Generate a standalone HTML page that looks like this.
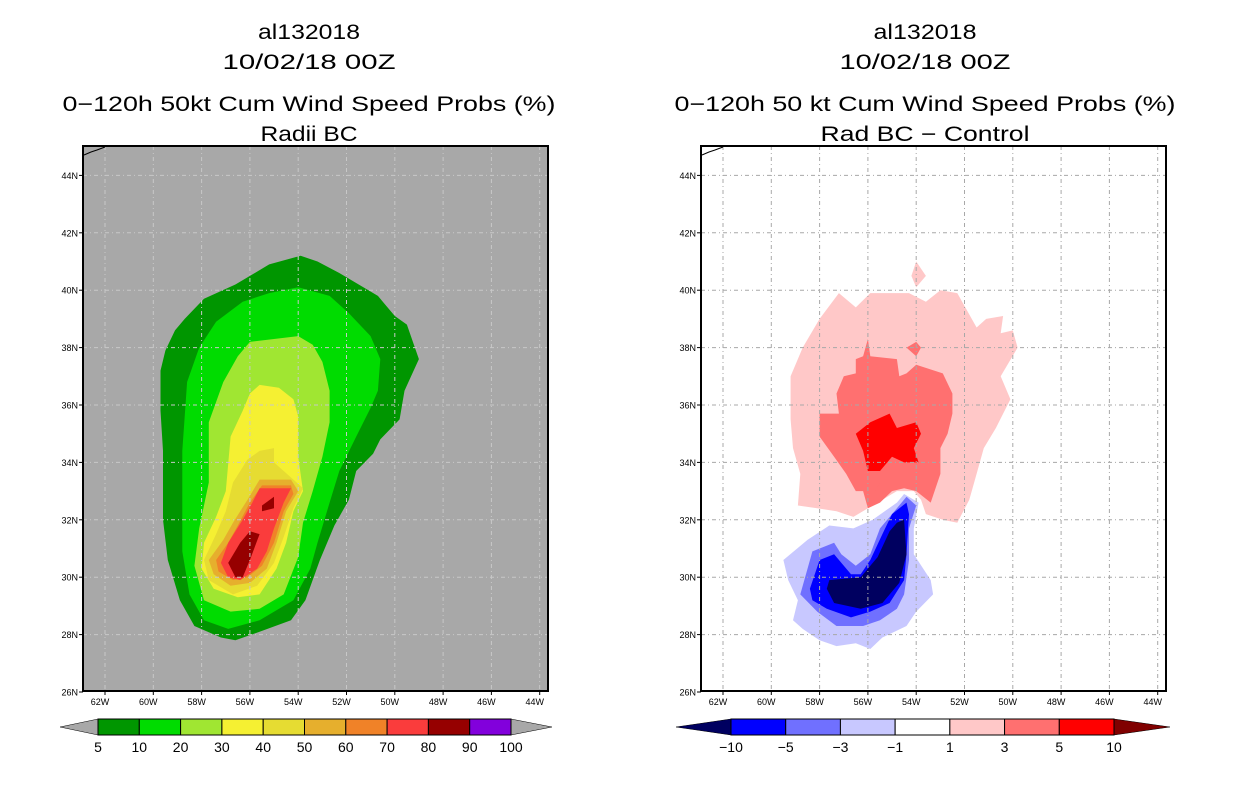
<!DOCTYPE html>
<html><head><meta charset="utf-8"><style>
body{margin:0;background:#fff;width:1236px;height:800px;overflow:hidden}
svg{display:block}
text{font-family:"Liberation Sans",sans-serif}
</style></head><body>
<svg id="c" width="1236" height="800" xmlns="http://www.w3.org/2000/svg"></svg>
<script>
// ---- data ----
const latTicks=[26,28,30,32,34,36,38,40,42,44];
const lonTicks=[62,60,58,56,54,52,50,48,46,44];
const leftLevels=["5","10","20","30","40","50","60","70","80","90","100"];
const leftColors=["#009600","#00dc00","#a0e632","#f5f032","#e6dc32","#e6af2d","#f08228","#fa3c3c","#960000","#8200dc"];
const rightLevels=["-10","-5","-3","-1","1","3","5","10"];
const rightColors=["#0000ff","#7070ff","#c8c8ff","#ffffff","#ffc8c8","#ff7070","#ff0000"];
// contour polygons [lonW, latN]
const c5=[[53.9,41.2],[53.2,41.0],[52.3,40.6],[50.7,39.8],[50.0,39.1],[49.5,38.8],[49.0,37.6],[49.6,36.5],[49.8,35.5],[50.6,34.8],[50.9,34.3],[51.6,33.7],[51.9,32.7],[52.5,31.8],[53.1,30.6],[53.7,29.2],[54.3,28.5],[55.6,28.1],[56.6,27.8],[57.2,27.9],[58.3,28.3],[58.9,29.2],[59.4,30.6],[59.6,32.0],[59.6,34.4],[59.7,35.8],[59.7,37.2],[59.5,37.9],[59.1,38.6],[58.7,39.0],[57.9,39.7],[56.6,40.2],[55.2,40.9]];
const c10=[[54.0,40.1],[52.7,39.8],[51.9,39.2],[51.0,38.4],[50.6,37.6],[50.7,36.5],[51.0,35.9],[51.6,34.9],[52.3,33.7],[52.7,32.6],[53.2,31.2],[53.5,30.3],[54.2,29.2],[55.6,28.5],[56.9,28.2],[57.9,28.5],[58.5,29.4],[58.8,30.9],[58.8,34.4],[58.6,36.8],[58.1,38.0],[57.4,38.9],[56.3,39.6],[55.2,39.9]];
const c20=[[56.0,38.2],[54.0,38.4],[53.4,38.1],[53.0,37.5],[52.7,36.5],[52.7,35.4],[53.0,34.2],[53.4,33.0],[53.8,31.9],[54.0,30.7],[54.6,29.4],[55.6,28.9],[56.8,28.8],[57.9,29.2],[58.3,30.4],[58.1,31.7],[57.7,33.3],[57.7,35.4],[57.1,36.8],[56.5,37.7]];
const c30=[[55.6,36.7],[54.8,36.6],[54.2,36.2],[54.0,35.6],[54.0,34.2],[53.8,33.0],[54.2,32.3],[54.5,31.2],[54.9,30.3],[55.6,29.4],[56.5,29.3],[57.5,29.6],[58.0,30.3],[57.9,31.2],[57.4,32.1],[57.0,33.0],[56.8,34.9],[56.3,35.8],[56.0,36.4]];
const c40=[[55.0,34.5],[55.0,34.0],[54.2,33.4],[53.8,33.1],[54.2,32.4],[54.6,31.4],[55.0,30.5],[55.7,29.7],[56.7,29.4],[57.7,29.9],[57.9,30.6],[57.4,31.5],[57.0,32.3],[56.7,33.3],[56.1,34.1],[55.6,34.4]];
const c50=[[55.6,33.4],[54.3,33.4],[54.0,33.0],[54.5,32.3],[54.9,31.2],[55.3,30.3],[56.0,29.8],[56.8,29.7],[57.5,30.1],[57.7,30.6],[57.1,31.3],[56.7,31.9],[56.1,32.7]];
const c60=[[55.5,33.2],[54.3,33.2],[54.2,32.9],[54.6,32.3],[55.0,31.2],[55.5,30.4],[56.1,30.0],[56.7,29.9],[57.3,30.2],[57.4,30.6],[56.9,31.2],[56.5,31.8],[56.0,32.6]];
const c70=[[55.6,33.1],[54.3,33.1],[54.6,32.6],[55.0,31.7],[55.3,30.9],[55.7,30.3],[56.4,29.9],[56.9,30.0],[57.2,30.5],[56.9,31.2],[56.3,32.0],[55.9,32.6]];
const c80a=[[56.0,31.6],[55.6,31.5],[56.0,30.6],[56.3,30.0],[56.6,30.0],[56.9,30.5],[56.4,31.2]];
const c80b=[[55.5,32.5],[55.0,32.8],[55.0,32.4],[55.5,32.3]];
const p1=[[59.2,37.0],[58.7,38.0],[58.0,39.0],[57.2,39.9],[56.5,39.4],[55.9,39.9],[55.1,39.9],[54.3,39.9],[53.6,39.6],[53.0,40.0],[52.3,39.9],[51.5,38.7],[51.1,39.0],[50.4,39.1],[50.5,38.5],[50.0,38.6],[49.8,38.0],[50.5,37.0],[50.1,36.2],[50.7,35.2],[51.2,34.5],[51.5,33.6],[51.8,32.7],[52.3,31.9],[52.9,32.0],[53.6,32.2],[53.8,32.7],[54.1,33.0],[54.8,33.0],[55.4,32.7],[56.0,32.4],[56.6,32.1],[57.3,32.3],[58.1,32.4],[58.9,32.5],[58.8,33.6],[59.1,34.5],[59.2,35.5]];
const p1b=[[54.0,41.0],[53.6,40.5],[54.0,40.1],[54.2,40.5]];
const p3=[[56.0,38.3],[55.9,37.7],[54.8,37.6],[54.7,37.0],[54.4,37.1],[54.0,37.4],[52.9,37.1],[52.5,36.4],[52.5,35.7],[52.7,35.0],[53.0,34.5],[53.0,33.6],[53.4,32.6],[54.0,33.0],[54.5,33.1],[55.0,33.0],[55.5,32.6],[56.0,32.4],[56.2,33.0],[56.5,33.0],[56.9,33.6],[57.4,34.2],[58.0,34.9],[58.0,35.7],[57.2,35.7],[57.3,36.4],[57.0,37.0],[56.5,37.1],[56.5,37.6],[56.2,37.7]];
const p3b=[[54.4,38.0],[54.0,38.2],[53.8,38.0],[54.0,37.7]];
const p3c=[[55.5,33.3],[55.3,33.0],[55.5,32.8],[55.7,33.0]];
const p5=[[55.9,35.4],[55.1,35.7],[54.8,35.2],[54.0,35.4],[53.8,35.0],[54.1,34.5],[53.9,34.0],[54.5,34.0],[55.0,34.2],[55.5,33.7],[56.0,33.7],[56.2,34.4],[56.5,35.0]];
const n1=[[59.5,30.6],[58.5,31.3],[57.6,31.8],[56.6,31.7],[55.8,32.0],[54.8,32.6],[54.5,32.9],[53.9,32.6],[54.1,31.7],[54.1,30.8],[53.4,29.9],[53.3,29.4],[54.0,28.8],[54.4,28.3],[55.4,27.9],[55.9,27.5],[56.5,27.7],[57.3,27.6],[58.0,27.8],[58.7,28.2],[59.1,28.5],[58.9,29.2],[59.3,29.9]];
const n3=[[58.8,29.4],[58.3,30.9],[57.4,31.2],[57.1,30.8],[56.5,30.4],[55.9,30.8],[55.5,31.7],[54.8,32.4],[54.4,32.8],[54.0,32.5],[54.3,31.7],[54.3,30.6],[54.5,29.4],[54.8,28.9],[55.5,28.5],[56.2,28.3],[57.3,28.3],[58.1,28.8]];
const n5=[[58.4,29.6],[58.0,30.6],[57.4,30.8],[56.7,30.1],[56.3,30.1],[55.9,30.6],[55.4,31.5],[55.0,32.2],[54.4,32.6],[54.3,32.2],[54.4,30.8],[54.5,29.9],[55.1,29.1],[55.9,28.8],[56.7,28.6],[57.7,28.9],[58.3,29.2]];
const n10=[[57.6,29.9],[56.3,30.0],[55.6,30.7],[55.1,31.6],[54.8,31.9],[54.5,32.0],[54.4,30.8],[54.7,29.8],[55.4,29.1],[56.3,28.9],[57.4,29.1],[57.7,29.6]];

// ---- drawing ----
const NS="http://www.w3.org/2000/svg", svg=document.getElementById('c');
function mk(tag,attrs,parent){const e=document.createElementNS(NS,tag);for(const k in attrs)e.setAttribute(k,attrs[k]);(parent||svg).appendChild(e);return e;}
function xs(off,lonW){return off+105+(62-lonW)*24.15;}
function ys(lat){return 692-(lat-26)*28.7;}
const X0=83,X1=548,Y0=146,Y1=691;
function panel(off,bg,grid,name){
  const g=mk('g',{});
  
  
  const r=mk('rect',{x:X0+off,y:Y0,width:X1-X0,height:Y1-Y0,fill:bg},g);
  
  
  const cg=mk('g',{},g);
  return {g,cg,grid,off};
}
function poly(P,pts,color,name){
  const d=pts.map(p=>xs(P.off,p[0]).toFixed(1)+','+ys(p[1]).toFixed(1)).join(' ');
  const e=mk('polygon',{points:d,fill:color},P.cg);
  
  
}
function axes(P){
  const off=P.off,g=P.g;
  for(const lon of lonTicks){const x=xs(off,lon);
    if(x>X0+off&&x<X1+off){const l=mk('line',{x1:x,y1:Y0,x2:x,y2:Y1,stroke:P.grid,'stroke-width':1,'stroke-dasharray':'4,3,1,3'},g);
      }
    mk('line',{x1:x,y1:Y1,x2:x,y2:Y1+4,stroke:'#000'},g);
    const t=mk('text',{x:x-5,y:Y1+14,'font-size':9,'text-anchor':'middle'},g);t.textContent=lon+'W';
    }
  for(const lat of latTicks){const y=ys(lat);
    if(y>Y0+1&&y<Y1-1){const l=mk('line',{x1:X0+off,y1:y,x2:X1+off,y2:y,stroke:P.grid,'stroke-width':1,'stroke-dasharray':'4,3,1,3'},g);
      }
    mk('line',{x1:X0+off-4,y1:y,x2:X0+off,y2:y,stroke:'#000'},g);
    const t=mk('text',{x:X0+off-5,y:y+3.5,'font-size':9,'text-anchor':'end'},g);t.textContent=lat+'N';
    }
  mk('polyline',{points:`${X0+off+1},${Y0+9} ${X0+off+8},${Y0+6} ${X0+off+14},${Y0+4} ${X0+off+22},${Y0+1}`,fill:'none',stroke:'#000','stroke-width':1},g);
  const f=mk('rect',{x:X0+off,y:Y0,width:X1-X0,height:Y1-Y0,fill:'none',stroke:'#000','stroke-width':2},g);
  
}
function titles(cx,lines,widths,name){
  const ys_=[39,69,111,141];
  lines.forEach((s,i)=>{const t=mk('text',{x:cx,y:ys_[i],'font-size':21,'text-anchor':'middle',textLength:widths[i],lengthAdjust:'spacingAndGlyphs'});
    t.textContent=s;});
}
// left
const L=panel(0,'#a8a8a8','#c8c8c8','left-map-panel');
[[c5,0],[c10,1],[c20,2],[c30,3],[c40,4],[c50,5],[c60,6],[c70,7],[c80a,8],[c80b,8]].forEach(([p,i])=>poly(L,p,leftColors[i],'prob-contour-'+leftLevels[i]));
axes(L);
// right
const R=panel(618,'#ffffff','#a8a8a8','right-map-panel');
poly(R,p1,rightColors[4],'diff-contour-1');poly(R,p1b,rightColors[4],'diff-contour-1');
poly(R,p3,rightColors[5],'diff-contour-3');poly(R,p3b,rightColors[5],'diff-contour-3');poly(R,p3c,rightColors[5],'diff-contour-3');
poly(R,p5,rightColors[6],'diff-contour-5');
poly(R,n1,rightColors[2],'diff-contour-neg1');poly(R,n3,rightColors[1],'diff-contour-neg3');
poly(R,n5,rightColors[0],'diff-contour-neg5');poly(R,n10,'#000060','diff-contour-neg10');
axes(R);
titles(309,['al132018','10/02/18 00Z','0\u2212120h 50kt Cum Wind Speed Probs (%)','Radii BC'],[102,173,493,97],'left-title');
titles(925,['al132018','10/02/18 00Z','0\u2212120h 50 kt Cum Wind Speed Probs (%)','Rad BC \u2212 Control'],[103,171,501,209],'right-title');
// colorbars
function colorbar(x0,x1,tl,tr,labels,colors,lc,rc,name){
  const g=mk('g',{});
  const yT=719,yB=735,ym=727,n=colors.length,w=(x1-x0)/n;
  mk('polygon',{points:`${tl},${ym} ${x0},${yT} ${x0},${yB}`,fill:lc,stroke:'#000','stroke-width':0.5},g);
  mk('polygon',{points:`${tr},${ym} ${x1},${yT} ${x1},${yB}`,fill:rc,stroke:'#000','stroke-width':0.5},g);
  colors.forEach((c,i)=>{const r=mk('rect',{x:x0+i*w,y:yT,width:w,height:yB-yT,fill:c,stroke:'#000','stroke-width':1},g);
    });
  labels.forEach((s,i)=>{const t=mk('text',{x:x0+i*w,y:752,'font-size':14,'text-anchor':'middle'},g);
    t.textContent=s.replace('-','\u2212');});
}
colorbar(98,511,60,552,leftLevels,leftColors,'#a8a8a8','#a8a8a8','left-colorbar');
colorbar(731,1114,676,1170,rightLevels,rightColors,'#000060','#800000','right-colorbar');
</script>
</body></html>
